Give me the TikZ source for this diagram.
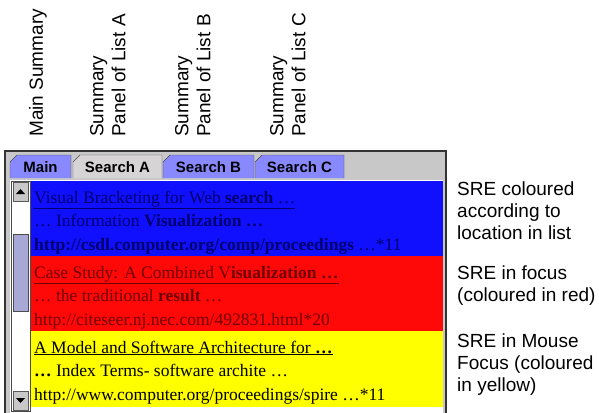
\documentclass[tikz,border=0pt]{standalone}
\usepackage{fontspec}
\setmainfont{Liberation Serif}
\setsansfont{Liberation Sans}
\usetikzlibrary{arrows}
\definecolor{panelgray}{RGB}{200,200,200}
\definecolor{tabblue}{RGB}{136,136,255}
\definecolor{tabsel}{RGB}{214,212,212}
\definecolor{sreblue}{RGB}{16,16,255}
\definecolor{srered}{RGB}{255,8,8}
\definecolor{sreyellow}{RGB}{255,255,0}
\definecolor{navytext}{RGB}{0,0,110}
\definecolor{redtext}{RGB}{112,0,0}
\definecolor{thumbc}{RGB}{168,168,214}

\begin{document}
\begin{tikzpicture}[x=1pt,y=-1pt,
  lbl/.style={font=\sffamily\fontsize{19}{22}\selectfont,align=left,inner sep=0pt},
  tabtext/.style={font=\sffamily\bfseries\fontsize{15}{17}\selectfont,inner sep=0pt},
  sre/.style={font=\fontsize{17.5}{20}\selectfont,inner sep=0pt,anchor=base west},
  btn/.style={draw=gray!70!black,fill=panelgray}]
\useasboundingbox (0,0) rectangle (599,412);
\node[lbl,rotate=90,anchor=north west] (mainlbl) at (29,137) {Main Summary};
\foreach \x/\n in {90/A,175/B,270/C}
  \node[lbl,rotate=90,anchor=north west] (lbl\n) at (\x,137) {Summary\\Panel of List \n};
\draw[gray!40!black,fill=panelgray,line width=1.5pt] (5,151) rectangle (446,425);
\foreach \a/\b/\t/\c [count=\i] in {10/71/Main/tabblue,73/162/Search A/tabsel,163/254/Search B/tabblue,255/344/Search C/tabblue} {
  \draw[gray!60!black,fill=\c] (\a,178) -- (\a,162) -- (\a+7,155) -- (\b,155) -- (\b,178);
  \node[tabtext] (tab\i) at ({(\a+\b)/2},167) {\t};
}
\draw[white,line width=1pt] (10,180) -- (443,180);
\fill[white] (10,181) rectangle (443,420);
\fill[sreblue] (31,181) rectangle (443,256);
\fill[srered] (31,256) rectangle (443,331);
\fill[sreyellow] (31,331) rectangle (443,407);
\node[sre,text=navytext] (b1) at (34,203) {\underline{Visual Bracketing for Web \textbf{search} \ldots}};
\node[sre,text=navytext] (b2) at (34,226.5) {\ldots{} Information \textbf{Visualization \ldots}};
\node[sre,text=navytext] (b3) at (34,250) {\textbf{http://csdl.computer.org/comp/proceedings} \ldots*11};
\node[sre,text=redtext] (r1) at (34,278) {\underline{Case Study: A Combined V\textbf{isualization \ldots}}};
\node[sre,text=redtext] (r2) at (34,301.5) {\ldots{} the traditional \textbf{result} \ldots};
\node[sre,text=redtext] (r3) at (34,325) {http://citeseer.nj.nec.com/492831.html*20};
\node[sre] (y1) at (34,353) {\underline{A Model and Software Architecture for \textbf{\ldots}}};
\node[sre] (y2) at (34,376.5) {\textbf{\ldots} Index Terms- software archite \ldots};
\node[sre] (y3) at (34,400) {http://www.computer.org/proceedings/spire \ldots*11};
\draw[gray!60!black] (11,181) rectangle (30,411);
\draw[btn] (13,182) rectangle (28,201);
\fill (16,194) -- (25,194) -- (20.5,189) -- cycle;
\draw[gray!60!black,fill=thumbc] (13,234) rectangle (28,311);
\draw[btn] (13,391) rectangle (28,410);
\fill (16,398) -- (25,398) -- (20.5,403) -- cycle;
\node[lbl,anchor=north west] (note1) at (457,182) {SRE coloured\\according to\\location in list};
\node[lbl,anchor=north west] (note2) at (457,266) {SRE in focus\\(coloured in red)};
\node[lbl,anchor=north west] (note3) at (457,334) {SRE in Mouse\\Focus (coloured\\in yellow)};
\end{tikzpicture}
\end{document}
